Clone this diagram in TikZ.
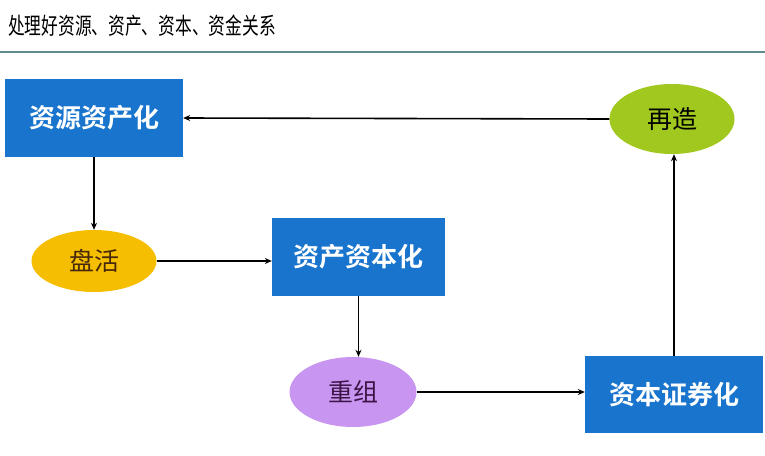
\documentclass[tikz,border=0pt]{standalone}
\usepackage{graphicx}
\usepackage{fontspec}
\newfontfamily\cjk{Noto Sans CJK SC}
\newfontfamily\cjkb{Noto Sans CJK SC Bold}
\usetikzlibrary{shapes.geometric,arrows.meta}
\definecolor{boxblue}{RGB}{24,116,205}
\definecolor{ygreen}{RGB}{160,200,30}
\definecolor{gold}{RGB}{246,190,0}
\definecolor{lav}{RGB}{200,150,240}
\definecolor{rule}{RGB}{95,140,140}
\definecolor{brn}{RGB}{70,40,10}
\definecolor{plum}{RGB}{60,20,70}
\tikzset{
  bluebox/.style={fill=boxblue, draw=none, text=white, font=\cjkb\fontsize{26}{28}\selectfont, minimum width=#1, inner sep=0pt},
  bluebox/.default=178pt,
  oval/.style={ellipse, draw=none, inner sep=0pt, font=\cjk\fontsize{25}{28}\selectfont},
  conn/.style={line width=1.6pt, -{Stealth[length=7pt,width=6pt]}}
}
\begin{document}
\begin{tikzpicture}[x=1pt,y=-1pt]
\useasboundingbox (0,0) rectangle (765,455);
\fill[white] (0,0) rectangle (765,455);
\node[anchor=west, inner sep=0pt, font=\cjk\fontsize{22}{26}\selectfont] (title) at (8,26) {\scalebox{0.76}[1.05]{处理好资源、资产、资本、资金关系}};
\coordinate (rl) at (0,52);
\coordinate (rr) at (765,52);
\draw[rule, line width=1.6pt] (rl) -- (rr);

\node[bluebox=178pt, minimum height=78pt] (b1) at (94,118) {资源资产化};
\node[bluebox=173pt, minimum height=78pt] (b2) at (358.5,257) {资产资本化};
\node[bluebox=178pt, minimum height=77pt] (b3) at (674,394.5) {资本证券化};

\node[oval, fill=ygreen, minimum width=125pt, minimum height=70pt] (e1) at (672,119) {再造};
\node[oval, fill=gold, text=brn, minimum width=125pt, minimum height=62pt] (e2) at (94,261) {盘活};
\node[oval, fill=lav, text=plum, minimum width=127pt, minimum height=70pt] (e3) at (353,392) {重组};

\draw[conn] (e1.west) -- (b1.east);
\draw[conn] (b1.south -| e2.north) -- (e2.north);
\draw[conn] (e2.east) -- (b2.west |- e2.east);
\draw[conn] (b2.south) -- (e3.north -| b2.south);
\draw[conn] (e3.east) -- (b3.west |- e3.east);
\draw[conn] (b3.north) -- (e1.south -| b3.north);
\end{tikzpicture}
\end{document}
